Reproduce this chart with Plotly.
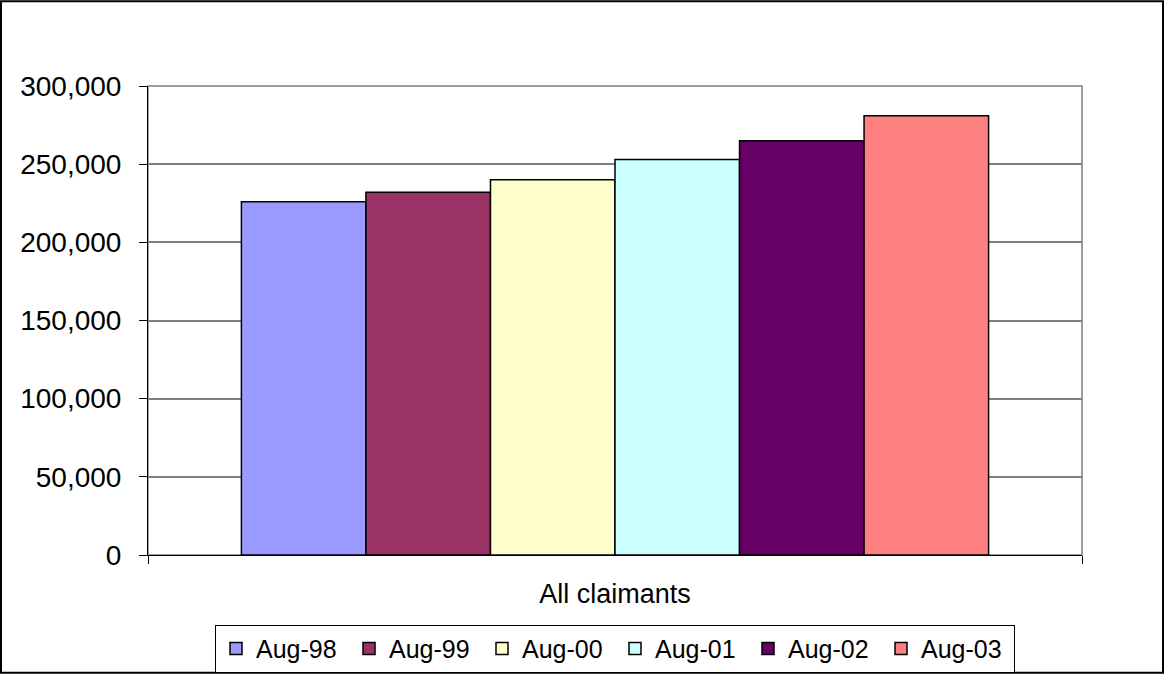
import plotly.graph_objects as go

categories = ["All claimants"]
series_names = ["Aug-98", "Aug-99", "Aug-00", "Aug-01", "Aug-02", "Aug-03"]
series_values = [226000, 232000, 240000, 253000, 265000, 281000]
colors = ["#9999FF", "#993366", "#FFFFCC", "#CCFFFF", "#660066", "#FF8080"]
y_ticks = [0, 50000, 100000, 150000, 200000, 250000, 300000]

# declared figure size (the page shows it ~8px shorter than declared)
W, H = 1165, 685
L, R, T, B = 148, 83, 86, 121
# geometry of the plot area as it appears on the page
PLOT_TOP, PLOT_BOTTOM = 86, 556
pw = W - L - R
ph = PLOT_BOTTOM - PLOT_TOP

FONT = "Arial, Liberation Sans, sans-serif"

fig = go.Figure()
for name, val, col in zip(series_names, series_values, colors):
    fig.add_trace(go.Bar(
        x=categories, y=[val], name=name,
        marker=dict(color=col, line=dict(color="black", width=1.5)),
    ))

def px_x(p):
    return (p - L) / pw

def px_y(p):
    return (PLOT_BOTTOM - p) / ph

fig.update_layout(
    width=W, height=H, autosize=False,
    margin=dict(l=L, r=R, t=T, b=B),
    paper_bgcolor="white", plot_bgcolor="white",
    barmode="group", bargap=0.2, bargroupgap=0,
    font=dict(family=FONT, size=27, color="black"),
    showlegend=True,
    legend=dict(
        orientation="h", x=0.5, xanchor="center",
        y=px_y(626), yanchor="top",
        bordercolor="black", borderwidth=1,
        font=dict(family=FONT, size=25, color="black"),
        traceorder="normal",
        entrywidth=88, entrywidthmode="pixels",
    ),
    xaxis=dict(
        type="category", showline=True, linecolor="black", linewidth=1,
        ticks="outside", tickson="boundaries", ticklen=8, tickcolor="black",
        showgrid=False, ticklabelstandoff=15,
        tickfont=dict(family=FONT, size=27),
    ),
    yaxis=dict(
        range=[0, 300000], tickvals=y_ticks, tickformat=",",
        showline=True, linecolor="black", linewidth=1,
        ticks="outside", ticklen=8, tickcolor="black",
        showgrid=True, gridcolor="#808080", gridwidth=1.5,
        zeroline=False, ticklabelstandoff=12,
        tickfont=dict(family=FONT, size=28),
    ),
    shapes=[
        dict(type="rect", xref="paper", yref="paper", x0=0, x1=1, y0=0, y1=1,
             line=dict(color="#808080", width=1.5), layer="below"),
        dict(type="rect", xref="paper", yref="paper",
             x0=px_x(1), x1=px_x(1163), y0=px_y(1), y1=px_y(674),
             line=dict(color="black", width=2)),
    ],
)

post = (
    "var gd=document.getElementById('{plot_id}');"
    "gd.style.position='fixed';gd.style.top='0';gd.style.left='0';"
    "document.body.style.margin='0';document.body.style.padding='0';"
    "document.documentElement.style.overflow='hidden';"
    "document.body.style.overflow='hidden';"
)

fig.write_html(
    "out.html",
    config={"displayModeBar": False, "responsive": False},
    post_script=post,
)
